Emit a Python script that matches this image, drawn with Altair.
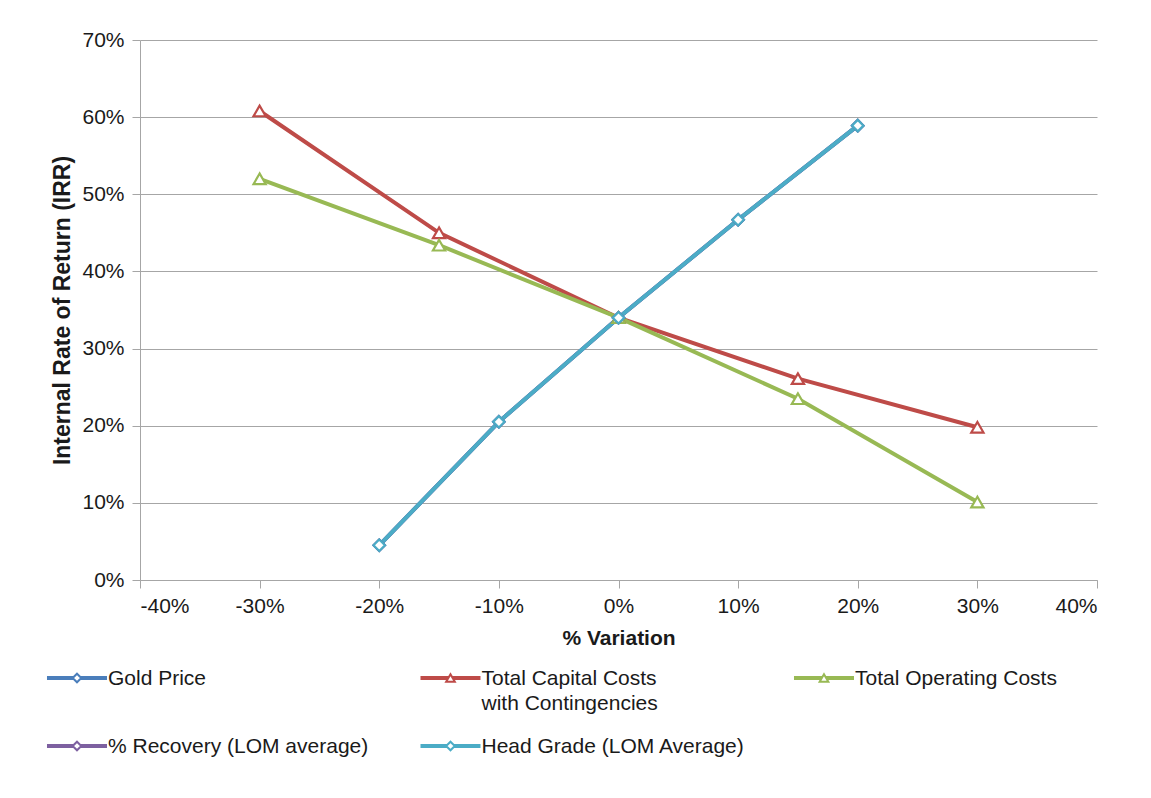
import altair as alt
import pandas as pd

# ---------------- data ----------------
series_names = [
    "Gold Price",
    "Total Capital Costs with Contingencies",
    "Total Operating Costs",
    "% Recovery (LOM average)",
    "Head Grade (LOM Average)",
]
series_colors = ["#4A7EBB", "#BE4B48", "#98B954", "#7D60A0", "#4BACC6"]
series_shapes = ["diamond", "triangle-up", "triangle-up", "diamond", "diamond"]

gold_x = [-0.20, -0.10, 0.00, 0.10, 0.20]
gold_y = [0.045, 0.205, 0.340, 0.467, 0.589]

capex_x = [-0.30, -0.15, 0.00, 0.15, 0.30]
capex_y = [0.608, 0.450, 0.340, 0.261, 0.198]

opex_x = [-0.30, -0.15, 0.00, 0.15, 0.30]
opex_y = [0.520, 0.434, 0.340, 0.235, 0.101]

recovery_x = [-0.20, -0.10, 0.00, 0.10, 0.20]
recovery_y = [0.045, 0.205, 0.340, 0.467, 0.589]

grade_x = [-0.20, -0.10, 0.00, 0.10, 0.20]
grade_y = [0.045, 0.205, 0.340, 0.467, 0.589]

x_ticks = [-0.4, -0.3, -0.2, -0.1, 0.0, 0.1, 0.2, 0.3, 0.4]
y_ticks = [0.0, 0.1, 0.2, 0.3, 0.4, 0.5, 0.6, 0.7]

legend_labels = [
    "Gold Price",
    "Total Capital Costs\nwith Contingencies",
    "Total Operating Costs",
    "% Recovery (LOM average)",
    "Head Grade (LOM Average)",
]
legend_col = [0, 1, 2, 0, 1]
legend_row = [0, 0, 0, 1, 1]

# ---------------- styling ----------------
FONT = "Liberation Sans"
TXT = "#1a1a1a"
GRID = "#a6a6a6"
HYPHEN_EXPR = "replace(datum.label, '\u2212', '-')"

xs = [gold_x, capex_x, opex_x, recovery_x, grade_x]
ys = [gold_y, capex_y, opex_y, recovery_y, grade_y]

x_enc = alt.X(
    "x:Q",
    scale=alt.Scale(domain=[-0.4, 0.4], nice=False, zero=False),
    axis=alt.Axis(
        values=x_ticks, format=".0%", labelExpr=HYPHEN_EXPR, title="% Variation", grid=False,
        domainColor=GRID, tickColor=GRID, tickSize=8, labelPadding=7,
        labelFontSize=21, labelColor=TXT, labelFont=FONT,
        titleFontSize=21, titleFont=FONT, titleColor=TXT, titleFontWeight="bold",
        titlePadding=11,
    ),
)
y_enc = alt.Y(
    "y:Q",
    scale=alt.Scale(domain=[0, 0.7], nice=False),
    axis=alt.Axis(
        values=y_ticks, format=".0%", title="Internal Rate of Return (IRR)",
        grid=True, gridColor=GRID, gridWidth=1,
        domainColor=GRID, tickColor=GRID, tickSize=8, labelPadding=8,
        labelFontSize=21, labelColor=TXT, labelFont=FONT,
        titleFontSize=23, titleFont=FONT, titleColor=TXT, titleFontWeight="bold",
        titlePadding=6, minExtent=60,
    ),
)

layers = []
for name, color, shape, sx, sy in zip(series_names, series_colors, series_shapes, xs, ys):
    df = pd.DataFrame({"x": sx, "y": sy, "series": name})
    layers.append(alt.Chart(df).mark_line(color=color, strokeWidth=4).encode(x=x_enc, y=y_enc))
for name, color, shape, sx, sy in zip(series_names, series_colors, series_shapes, xs, ys):
    df = pd.DataFrame({"x": sx, "y": sy, "series": name})
    size = 130 if shape == "diamond" else 150
    layers.append(
        alt.Chart(df).mark_point(shape=shape, filled=True, fill="white", stroke=color,
                                 strokeWidth=2.2, size=size, opacity=1).encode(x=x_enc, y=y_enc)
    )

main = alt.layer(*layers).properties(width=957, height=540)

# ---------------- legend panel ----------------
leg_df = pd.DataFrame({
    "label": legend_labels,
    "col": legend_col,
    "row": legend_row,
})
LEG_W = 957
lx = alt.X("col:Q", scale=alt.Scale(domain=[0.1687, 0.1687 + LEG_W / 373.5], nice=False, zero=False), axis=None)
ly = alt.Y("row:Q", scale=alt.Scale(domain=[-0.3235, 1.2941], nice=False, zero=False, reverse=True), axis=None)
lcolor = alt.Color("label:N", scale=alt.Scale(domain=legend_labels, range=series_colors), legend=None)
lshape = alt.Shape("label:N", scale=alt.Scale(domain=legend_labels, range=series_shapes), legend=None)

leg_base = alt.Chart(leg_df)
leg_line = leg_base.mark_tick(orient="horizontal", size=60, thickness=4, opacity=1).encode(
    x=lx, y=ly, color=lcolor)
leg_pt = leg_base.mark_point(filled=True, fill="white", strokeWidth=2, size=75, opacity=1).encode(
    x=lx, y=ly,
    stroke=alt.Stroke("label:N", scale=alt.Scale(domain=legend_labels, range=series_colors), legend=None),
    shape=lshape)
leg_txt = leg_base.mark_text(align="left", baseline="alphabetic", dx=31, dy=7, fontSize=21,
                             font=FONT, color=TXT, lineBreak="\n", lineHeight=25).encode(
    x=lx, y=ly, text="label:N")
legend = alt.layer(leg_line, leg_pt, leg_txt).properties(width=LEG_W, height=110)

chart = (
    alt.vconcat(main, legend, spacing=8)
    .resolve_scale(x="independent", y="independent", color="independent", shape="independent", stroke="independent")
    .properties(padding={"left": 38, "top": 21, "right": 5, "bottom": 5}, background="white")
    .configure_view(stroke=None)
)

chart.save("out.html", embed_options={"renderer": "svg", "actions": False})
